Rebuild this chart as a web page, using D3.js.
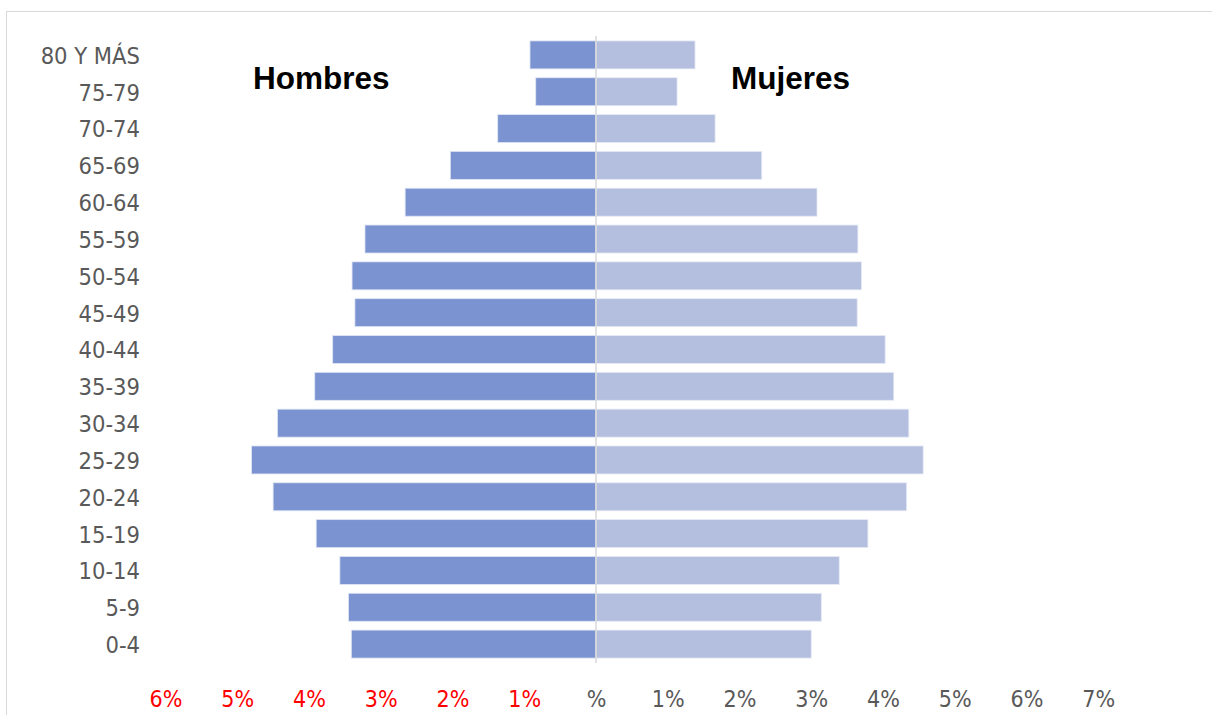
<!DOCTYPE html>
<html>
<head>
<meta charset="utf-8">
<script src="https://cdn.jsdelivr.net/npm/d3@7"></script>
<style>
  body { margin: 0; background: #fff; }
  svg { display: block; }
  .axis text { font-family: "DejaVu Sans Condensed", "DejaVu Sans", sans-serif; font-stretch: condensed; }
  .title { font-family: "Liberation Sans", Arial, sans-serif; font-weight: bold; }
</style>
</head>
<body>
<svg id="chart"></svg>
<script>
// age groups, top to bottom
const ageGroups = ['80 Y MÁS', '75-79', '70-74', '65-69', '60-64', '55-59', '50-54', '45-49',
  '40-44', '35-39', '30-34', '25-29', '20-24', '15-19', '10-14', '5-9', '0-4'];

// percent of population
const hombres = [0.92, 0.84, 1.37, 2.03, 2.66, 3.22, 3.40, 3.36,
  3.67, 3.92, 4.44, 4.80, 4.50, 3.90, 3.57, 3.45, 3.41];
const mujeres = [1.38, 1.13, 1.66, 2.31, 3.08, 3.65, 3.70, 3.64,
  4.03, 4.15, 4.36, 4.56, 4.33, 3.79, 3.39, 3.14, 3.00];

const xTicks = [-6, -5, -4, -3, -2, -1, 0, 1, 2, 3, 4, 5, 6, 7];

const width = 1212, height = 715;

const colorMap = {
  hombres: '#7b93d0',
  mujeres: '#b4bfdf',
  negative: '#ff0000',
  label: '#595959'
};

let svg = d3.select('#chart')
  .attr('width', width)
  .attr('height', height);

// chart frame
svg.append('rect')
  .attr('x', 6.5)
  .attr('y', 11.5)
  .attr('width', width + 10)
  .attr('height', height + 10)
  .attr('fill', 'none')
  .attr('stroke', '#d9d9d9')
  .attr('stroke-width', 1);

let x = d3.scaleLinear()
  .domain([-6, 7])
  .range([165.5, 1098.25]);

let y = d3.scaleBand()
  .domain(ageGroups)
  .range([36.5, 662.5])
  .paddingInner(0.24)
  .paddingOuter(0.12);

let rows = ageGroups.map((g, i) => ({ group: g, h: hombres[i], m: mujeres[i] }));

// Hombres (left)
svg.append('g')
  .attr('class', 'bars-hombres')
  .selectAll('rect')
  .data(rows)
  .enter().append('rect')
    .attr('x', (d) => x(-d.h))
    .attr('y', (d) => y(d.group))
    .attr('width', (d) => x(0) - x(-d.h))
    .attr('height', y.bandwidth())
    .attr('fill', colorMap.hombres)
    .attr('stroke', '#dfe5f4')
    .attr('stroke-width', 0.8);

// Mujeres (right)
svg.append('g')
  .attr('class', 'bars-mujeres')
  .selectAll('rect')
  .data(rows)
  .enter().append('rect')
    .attr('x', x(0))
    .attr('y', (d) => y(d.group))
    .attr('width', (d) => x(d.m) - x(0))
    .attr('height', y.bandwidth())
    .attr('fill', colorMap.mujeres)
    .attr('stroke', '#e6eaf5')
    .attr('stroke-width', 0.8);

// center line
svg.append('line')
  .attr('x1', x(0))
  .attr('x2', x(0))
  .attr('y1', 36)
  .attr('y2', 663)
  .attr('stroke', '#d9d9d9')
  .attr('stroke-width', 1.5);

// Y axis (age groups)
let yAxis = svg.append('g')
  .attr('class', 'axis axis-y')
  .attr('transform', 'translate(140, 0)')
  .call(d3.axisLeft(y).tickSize(0).tickPadding(0));

yAxis.select('.domain').remove();
yAxis.selectAll('text')
  .attr('dy', '0.38em')
  .attr('fill', colorMap.label)
  .style('font-size', '23.5px');

// X axis (percentages)
let xAxis = svg.append('g')
  .attr('class', 'axis axis-x')
  .attr('transform', 'translate(0, 691)')
  .call(d3.axisBottom(x)
    .tickValues(xTicks)
    .tickSize(0)
    .tickPadding(0)
    .tickFormat((d) => d === 0 ? '%' : Math.abs(d) + '%'));

xAxis.select('.domain').remove();
xAxis.selectAll('text')
  .attr('fill', (d) => d < 0 ? colorMap.negative : colorMap.label)
  .style('font-size', '23px');

// titles
svg.append('text')
  .attr('class', 'title')
  .attr('x', 253)
  .attr('y', 89)
  .style('font-size', '31.5px')
  .attr('fill', '#000')
  .text('Hombres');

svg.append('text')
  .attr('class', 'title')
  .attr('x', 731)
  .attr('y', 89)
  .style('font-size', '31.5px')
  .attr('fill', '#000')
  .text('Mujeres');
</script>
</body>
</html>
